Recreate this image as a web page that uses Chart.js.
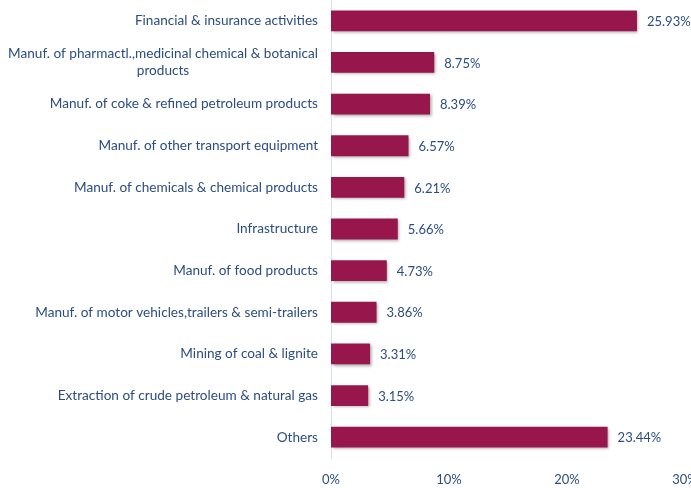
<!DOCTYPE html>
<html>
<head>
<meta charset="utf-8">
<script src="https://cdn.jsdelivr.net/npm/chart.js@4/dist/chart.umd.min.js"></script>
<style>
  html, body { margin: 0; padding: 0; background: #fff; overflow: hidden; }
  #wrap { position: relative; width: 691px; height: 488px; }
</style>
</head>
<body>
<div id="wrap"><canvas id="barChart"></canvas></div>
<script>
// sectores e participação (%)
const setores = [
  'Financial & insurance activities',
  ['Manuf. of pharmactl.,medicinal chemical & botanical', 'products'],
  'Manuf. of coke & refined petroleum products',
  'Manuf. of other transport equipment',
  'Manuf. of chemicals & chemical products',
  'Infrastructure',
  'Manuf. of food products',
  'Manuf. of motor vehicles,trailers & semi-trailers',
  'Mining of coal & lignite',
  'Extraction of crude petroleum & natural gas',
  'Others'
];
const percentuais = [25.93, 8.75, 8.39, 6.57, 6.21, 5.66, 4.73, 3.86, 3.31, 3.15, 23.44];
const ticksX = [0, 10, 20, 30];

const corTexto = '#2b4d80';
const familia = 'Lato, "Open Sans", sans-serif';

/* sombra leve nas barras */
const sombraBarras = {
  id: 'sombraBarras',
  beforeDatasetsDraw(chart) {
    const c = chart.ctx;
    c.save();
    c.shadowColor = 'rgba(0,0,0,0.35)';
    c.shadowBlur = 3;
    c.shadowOffsetX = 1.5;
    c.shadowOffsetY = 1.5;
  },
  afterDatasetsDraw(chart) {
    chart.ctx.restore();
  }
};

/* rótulos das categorias (centrados quando quebram linha) e valores */
const rotulos = {
  id: 'rotulos',
  afterDraw(chart) {
    const c = chart.ctx;
    const yScale = chart.scales.y;
    const meta = chart.getDatasetMeta(0);
    c.save();
    c.fillStyle = corTexto;
    c.textBaseline = 'middle';
    c.font = '13.6px ' + familia;
    setores.forEach((lab, i) => {
      const linhas = Array.isArray(lab) ? lab : [lab];
      const larg = Math.max(...linhas.map(l => c.measureText(l).width));
      const cx = chart.chartArea.left - 13 - larg / 2;
      const y0 = yScale.getPixelForValue(i) - (linhas.length - 1) * 17 / 2;
      c.textAlign = 'center';
      linhas.forEach((l, k) => c.fillText(l, cx, y0 + k * 17));
    });
    c.font = '13px ' + familia;
    c.textAlign = 'left';
    meta.data.forEach((bar, i) => {
      c.fillText(percentuais[i].toFixed(2) + '%', bar.x + 10, bar.y + 1);
    });
    c.restore();
  }
};

document.addEventListener('DOMContentLoaded', () => {
  const ctx = document.getElementById('barChart').getContext('2d');

  new Chart(ctx, {
    type: 'bar',
    data: {
      labels: setores,
      datasets: [{
        data: percentuais,
        backgroundColor: '#97174c',
        borderWidth: 0,
        barPercentage: 0.5,
        categoryPercentage: 1.0
      }]
    },
    plugins: [sombraBarras, rotulos],
    options: {
      indexAxis: 'y',
      responsive: true,
      maintainAspectRatio: false,
      animation: false,
      layout: { padding: { top: -4, left: 0, right: 6, bottom: 0 } },
      scales: {
        x: {
          min: 0,
          max: 30,
          afterBuildTicks: axis => { axis.ticks = ticksX.map(v => ({ value: v })); },
          grid: { display: false },
          border: { display: false },
          ticks: {
            padding: 6,
            color: corTexto,
            font: { family: familia, size: 13 },
            callback: v => v + '%',
            maxRotation: 0
          },
          // o rótulo "30%" pode passar da borda do canvas
          afterFit: axis => {
            axis.height = 30;
            axis.paddingLeft = 0;
            axis.paddingRight = 0;
          }
        },
        y: {
          grid: { display: false },
          border: { display: true, color: '#d6e0ee', width: 1 },
          ticks: { display: false },
          afterFit: axis => {
            axis.width = 331;
            axis.paddingTop = 0;
            axis.paddingBottom = 0;
          }
        }
      },
      plugins: {
        legend: { display: false },
        tooltip: { enabled: false }
      }
    }
  });
});
</script>
</body>
</html>
